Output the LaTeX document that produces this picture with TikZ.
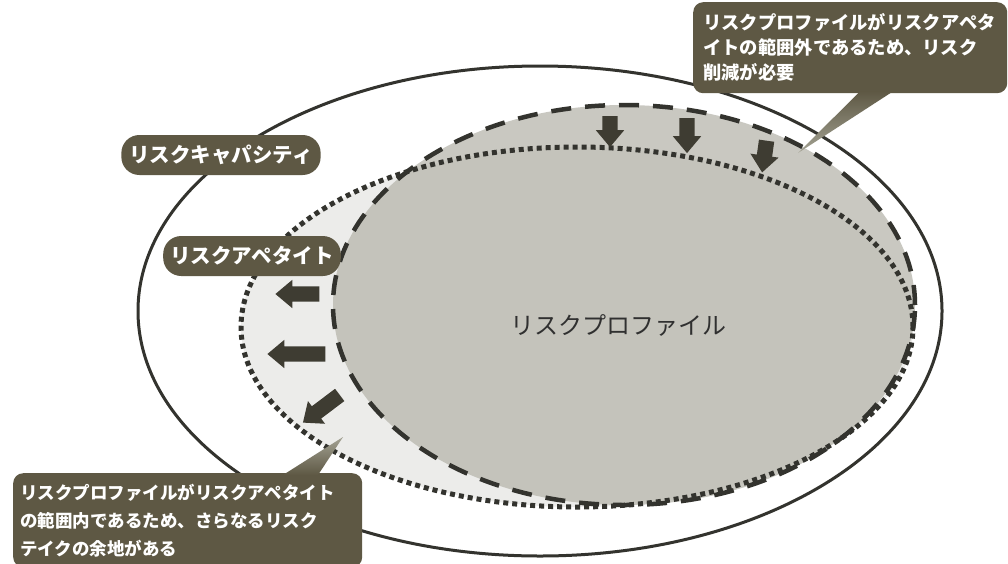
\documentclass[tikz,border=0pt]{standalone}
\usepackage{fontspec}
\newfontfamily\jp{Noto Sans CJK JP}
\usetikzlibrary{shapes.arrows}
\definecolor{boxc}{HTML}{5E5844}
\definecolor{arrowc}{HTML}{3E3C32}
\definecolor{linec}{HTML}{33332E}
\definecolor{appfill}{HTML}{ECECEA}
\definecolor{proffill}{HTML}{B5B4AA}
\definecolor{ptrlight}{HTML}{A3A293}
\definecolor{textc}{HTML}{303030}
\begin{document}
\begin{tikzpicture}[x=1pt,y=-1pt,
  capline/.style={draw=linec,line width=3pt},
  dotline/.style={draw=linec,line width=5pt,dash pattern=on 5pt off 4pt},
  dashline/.style={draw=linec,line width=4.5pt,dash pattern=on 20pt off 14pt},
  pill/.style={fill=boxc,text=white,font=\jp\bfseries\fontsize{20.5}{24}\selectfont,
    rounded corners=18pt,inner xsep=8pt,inner ysep=0pt,minimum height=40pt},
  callout/.style={fill=boxc,text=white,rounded corners=10pt,align=left,inner ysep=0pt,anchor=north west},
  blockarrow/.style={single arrow,fill=arrowc,draw=none,inner xsep=0pt,inner ysep=7.5pt,
    single arrow head extend=6.5pt,single arrow tip angle=80,minimum width=0pt},
  ptr/.style={draw=none}
]
\useasboundingbox (0,0) rectangle (1008,563);
\fill[white] (0,0) rectangle (1008,563);

% ellipses
\fill[appfill] (577,327) ellipse [x radius=336pt, y radius=180pt];
\fill[proffill,opacity=0.72] (624,305) ellipse [x radius=291pt, y radius=200pt];
\draw[capline] (540,311) ellipse [x radius=402pt, y radius=245pt];
\draw[dotline] (577,327) ellipse [x radius=336pt, y radius=180pt];
\draw[dashline] (624,305) ellipse [x radius=291pt, y radius=200pt];

% arrows
\node[blockarrow,minimum height=31pt,rotate=-90] (a1) at (610,127) {};
\node[blockarrow,minimum height=35pt,rotate=-90] (a2) at (687,131) {};
\node[blockarrow,minimum height=32pt,rotate=-98] (a3) at (765,152) {};
\node[blockarrow,minimum height=44pt,rotate=180] (a4) at (302,294) {};
\node[blockarrow,minimum height=58pt,rotate=180] (a5) at (301,354) {};
\node[blockarrow,minimum height=46pt,rotate=-143] (a6) at (325,406) {};

% labels
\node[pill] (capl) at (221,155) {リスクキャパシティ};
\node[pill,inner xsep=7pt] (appl) at (252,256) {リスクアペタイト};
\node[font=\jp\fontsize{24}{28}\selectfont,text=textc] (prof) at (618,325) {リスクプロファイル};

% callouts
\node[callout,font=\jp\bfseries\fontsize{18.3}{25}\selectfont,text width=294pt,inner xsep=10pt,
  minimum width=312pt,minimum height=91pt] (trc) at (693,2)
  {リスクプロファイルがリスクアペタ\\イトの範囲外であるため、リスク\\削減が必要};
\coordinate (trtip) at (798,153);
\shade[ptr,top color=boxc,bottom color=ptrlight]
  ([xshift=167pt,yshift=2pt]trc.south west) -- (trtip) -- ([xshift=200pt,yshift=2pt]trc.south west) -- cycle;

\node[callout,font=\jp\bfseries\fontsize{17.5}{28}\selectfont,text width=335pt,inner xsep=7pt,
  minimum width=349pt,minimum height=94pt] (blc) at (13,473)
  {リスクプロファイルがリスクアペタイト\\の範囲内であるため、さらなるリスク\\テイクの余地がある};
\coordinate (bltip) at (343,437);
\shade[ptr,bottom color=boxc,top color=ptrlight]
  ([xshift=270pt,yshift=-2pt]blc.north west) -- (bltip) -- ([xshift=305pt,yshift=-2pt]blc.north west) -- cycle;
\end{tikzpicture}
\end{document}
